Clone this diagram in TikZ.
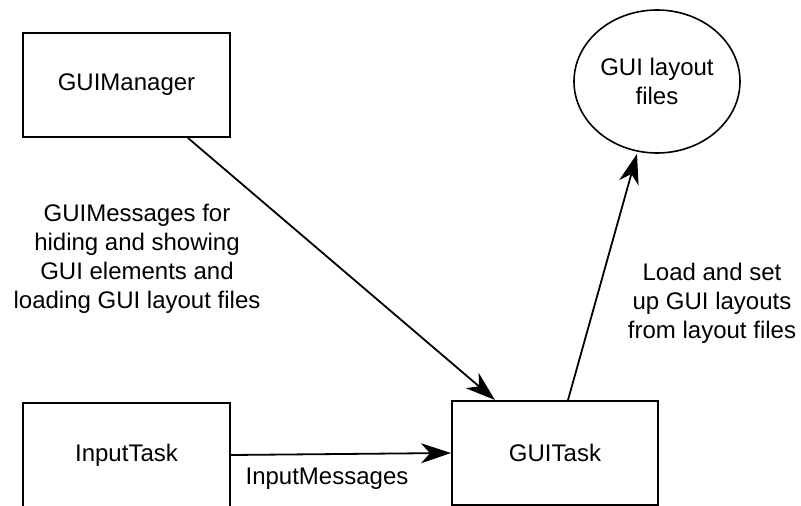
\documentclass[tikz,border=0pt]{standalone}
\usepackage{fontspec}
\setmainfont{Liberation Sans}
\usetikzlibrary{arrows.meta,shapes.geometric}

\tikzset{
  every node/.style={font=\fontsize{24}{29}\selectfont},
  box/.style={draw, line width=2pt, minimum width=207pt, minimum height=104pt, inner sep=0pt},
  store/.style={draw, ellipse, line width=1.6pt, minimum width=166pt, minimum height=143pt, inner sep=0pt, align=center},
  msg/.style={align=center, inner sep=0pt},
  flow/.style={line width=1.8pt, -{Stealth[length=30pt, width=20pt, inset=9pt]}}
}

\begin{document}
\begin{tikzpicture}[x=1pt, y=-1pt]
  \useasboundingbox (0,0) rectangle (801,506);

  % components
  \node[box] (mgr) at (126.5,85) {GUIManager};
  \node[box] (inp) at (126.5,455) {InputTask};
  \node[box, minimum width=206pt] (gui) at (555,453) {GUITask};
  \node[store] (files) at (657,81.5) {GUI layout\\files};

  % message labels
  \node[msg] (lmgr) at (137,259) {GUIMessages for\\hiding and showing\\GUI elements and\\loading GUI layout files};
  \node[msg] (lload) at (712,303) {Load and set\\up GUI layouts\\from layout files};
  \node[msg] (linp) at (327,479) {InputMessages};

  % message flow
  \draw[flow] ([xshift=61.5pt]mgr.south) -- ([xshift=-60pt]gui.north);
  \draw[flow] (inp.east) -- (gui.west);
  \draw[flow] ([xshift=13pt]gui.north) -- ([xshift=-20pt]files.south);
\end{tikzpicture}
\end{document}
